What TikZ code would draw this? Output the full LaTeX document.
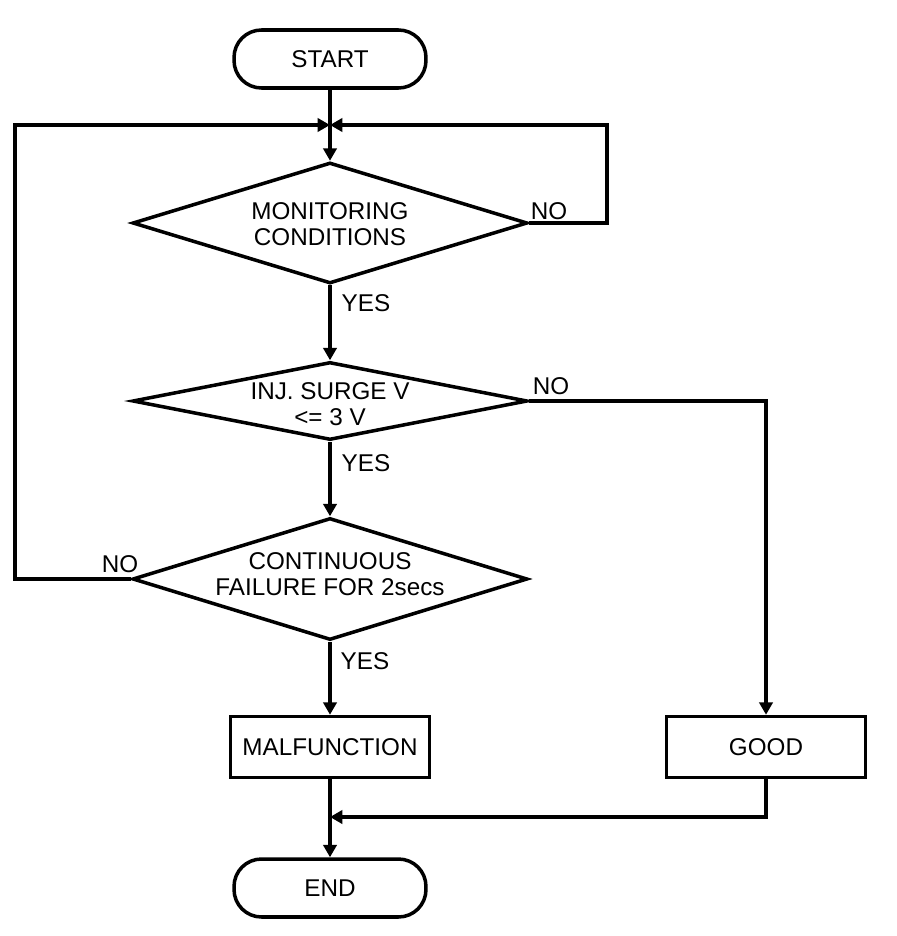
\documentclass[tikz,border=0pt]{standalone}
\usepackage{fontspec}
\setmainfont{Liberation Sans}
\usetikzlibrary{shapes.geometric,arrows.meta}
\tikzstyle{every node}=[inner sep=0pt, font=\fontsize{13.8}{14.5}\selectfont]
\tikzstyle{terminal}=[draw, rectangle, rounded corners=0.55cm,
                      minimum width=3.84cm, minimum height=1.16cm]
\tikzstyle{decision}=[draw, diamond, minimum width=7.9cm]
\tikzstyle{question}=[draw=none, align=center]
\tikzstyle{process}=[draw, rectangle, minimum width=3.98cm, minimum height=1.22cm]
\tikzstyle{answer}=[draw=none]
\tikzstyle{flow}=[-{Triangle[length=7pt,width=7.5pt]}]
\tikzstyle{every picture}=[x=0.02cm, y=-0.02cm, line width=2pt]

\begin{document}
\begin{tikzpicture}
      \useasboundingbox (0,0) rectangle (896,936);
      \node[terminal] (start) at (330,59) {START};
      \node[decision, aspect=3.26, minimum height=2.42cm] (mon) at (330,223) {};
      \node[question] (mon text) at (330,224) {MONITORING\\CONDITIONS};
      \node[decision, aspect=5.06, minimum height=1.56cm] (inj) at (330,401) {};
      \node[question] (inj text) at (330,404) {INJ. SURGE V\\{<}= 3 V};
      \node[decision, aspect=3.24, minimum height=2.44cm] (cont) at (330,579) {};
      \node[question] (cont text) at (330,574) {CONTINUOUS\\FAILURE FOR 2secs};
      \node[process] (malf) at (330,747) {MALFUNCTION};
      \node[process] (good) at (766,747) {GOOD};
      \node[terminal] (end) at (330,888) {END};
      \coordinate (join) at (330,125);
      \coordinate (rloop) at (607,125);
      \coordinate (lloop) at (15,125);
      \coordinate (merge) at (330,817);
      \node[answer] (mon no) at (549,211) {NO};
      \node[answer] (mon yes) at (366,303) {YES};
      \node[answer] (inj no) at (551,386) {NO};
      \node[answer] (inj yes) at (366,463) {YES};
      \node[answer] (cont no) at (120,564) {NO};
      \node[answer] (cont yes) at (365,661) {YES};
	\draw[flow] (start)--(mon);
	\draw[flow] (mon.east) -| (rloop) -- (join);
	\draw[flow] (cont.west) -| (lloop) -- (join);
	\draw[flow] (mon)--(inj);
	\draw[flow] (inj)--(cont);
	\draw[flow] (cont)--(malf);
	\draw[flow] (inj.east) -| (good);
	\draw[flow] (malf)--(end);
	\draw[flow] (good.south) |- (merge);
      \end{tikzpicture}
\end{document}
